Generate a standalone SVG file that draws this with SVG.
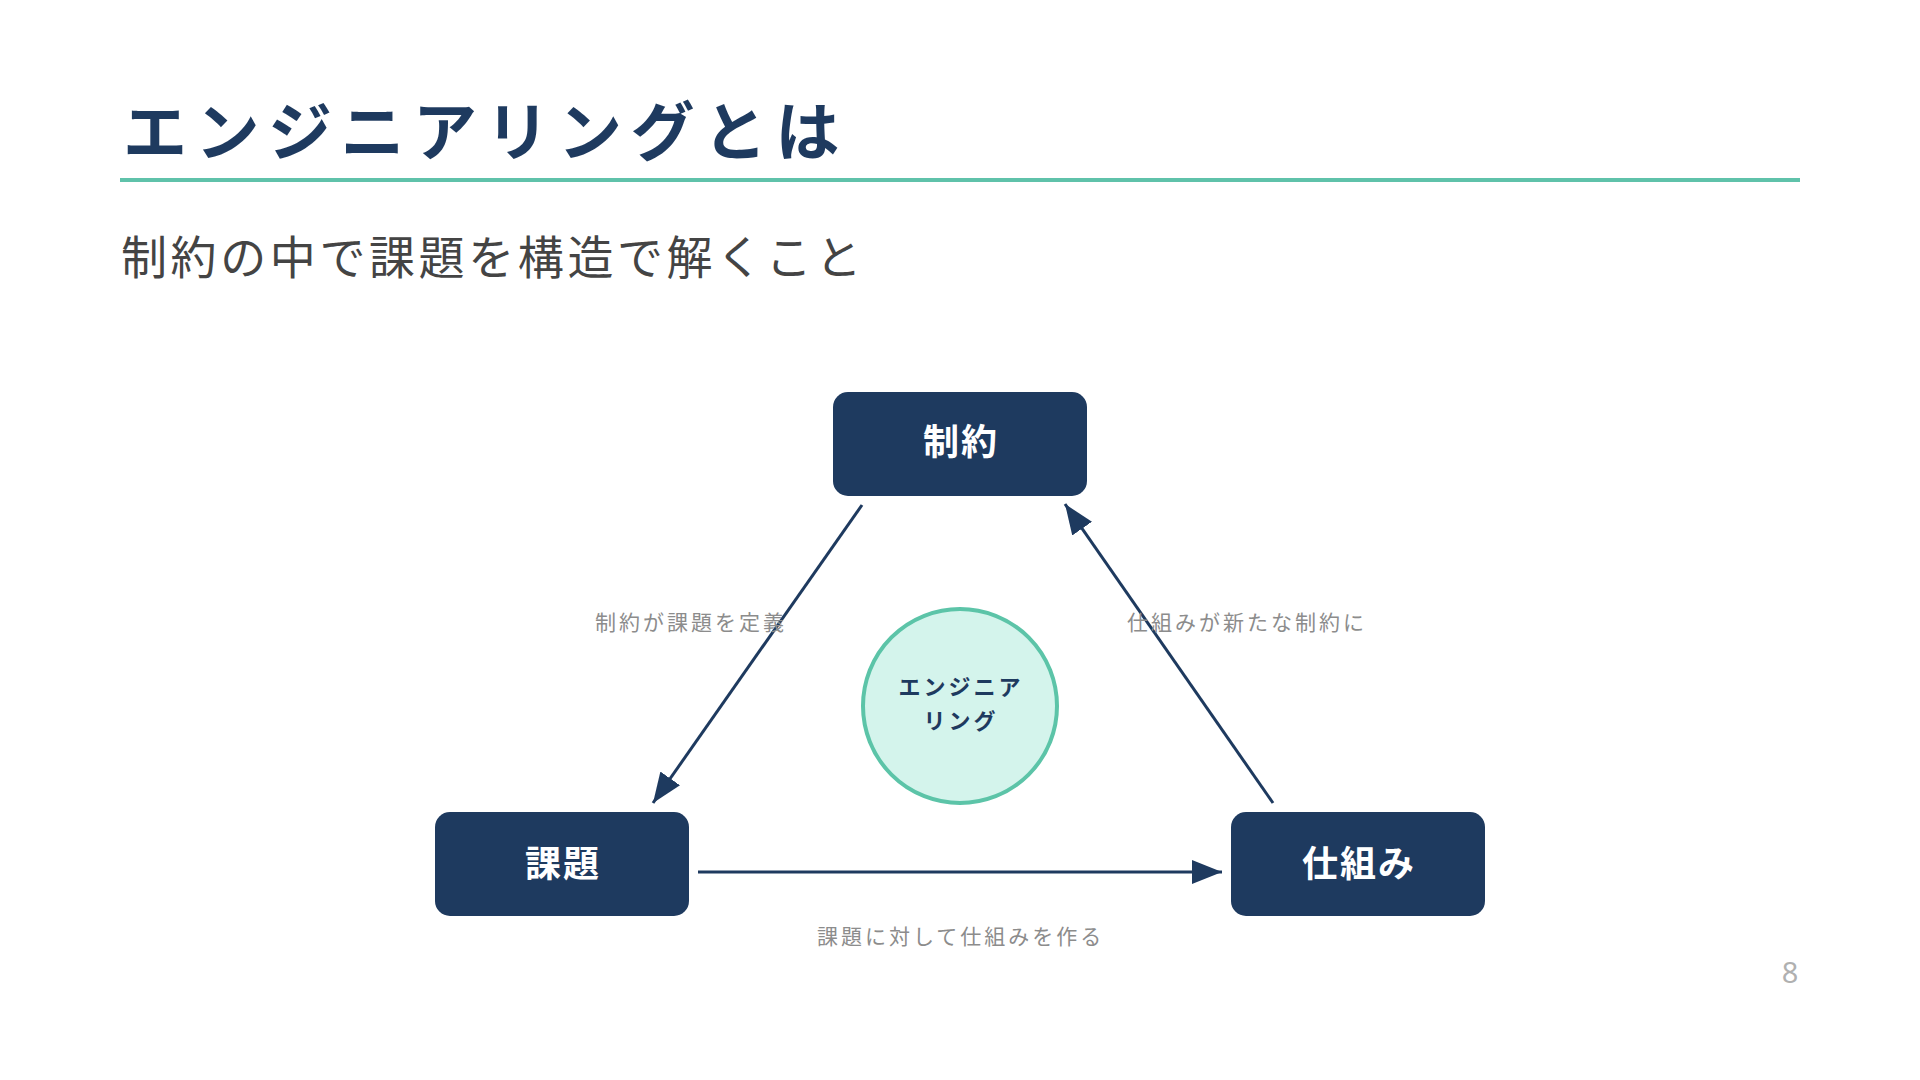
<svg xmlns="http://www.w3.org/2000/svg" width="1920" height="1080" viewBox="0 0 1920 1080">
<defs>
<style>
text{font-family:"Noto Sans CJK JP","Noto Sans",sans-serif;}
.title{font-size:64px;font-weight:700;fill:#1e3a5f;letter-spacing:8.5px;}
.sub{font-size:46px;font-weight:400;fill:#444444;letter-spacing:3.6px;}
.box{fill:#1e3a5f;}
.boxlabel{font-size:36px;font-weight:700;fill:#ffffff;text-anchor:middle;letter-spacing:2px;}
.edge{stroke:#1e3a5f;stroke-width:3;fill:none;marker-end:url(#arrow);}
.elabel{font-size:21px;fill:#8c8c8c;letter-spacing:3px;}
.center{font-size:22px;font-weight:700;fill:#1e3a5f;text-anchor:middle;letter-spacing:3px;}
</style>
<marker id="arrow" markerUnits="userSpaceOnUse" markerWidth="30" markerHeight="24" viewBox="0 0 30 24" refX="30" refY="12" orient="auto">
<path d="M0,0 L30,12 L0,24 Z" fill="#1e3a5f"/>
</marker>
</defs>
<rect width="1920" height="1080" fill="#ffffff"/>
<g id="header">
<text class="title" x="123" y="155">エンジニアリングとは</text>
<line x1="120" y1="180" x2="1800" y2="180" stroke="#5fc2aa" stroke-width="4"/>
<text class="sub" x="121" y="274">制約の中で課題を構造で解くこと</text>
</g>
<g id="connectors">
<line class="edge" x1="862" y1="505" x2="653" y2="803"/>
<line class="edge" x1="698" y1="872" x2="1222" y2="872"/>
<line class="edge" x1="1273" y1="803" x2="1065" y2="504"/>
<text class="elabel" x="595" y="630">制約が課題を定義</text>
<text class="elabel" x="1127" y="630">仕組みが新たな制約に</text>
<text class="elabel" x="817" y="944">課題に対して仕組みを作る</text>
</g>
<g id="node-constraint">
<rect class="box" x="833" y="392" width="254" height="104" rx="15"/>
<text class="boxlabel" x="961" y="455">制約</text>
</g>
<g id="node-problem">
<rect class="box" x="435" y="812" width="254" height="104" rx="15"/>
<text class="boxlabel" x="563" y="877">課題</text>
</g>
<g id="node-mechanism">
<rect class="box" x="1231" y="812" width="254" height="104" rx="15"/>
<text class="boxlabel" x="1359" y="877">仕組み</text>
</g>
<g id="node-engineering">
<circle cx="960" cy="706" r="97" fill="#d4f4ec" stroke="#5cc4a8" stroke-width="4"/>
<text class="center" x="961" y="695">エンジニア</text>
<text class="center" x="961" y="729">リング</text>
</g>
<text x="1790" y="983" font-size="29" fill="#b0b0b0" text-anchor="middle" style="font-family:'Noto Sans','DejaVu Sans',sans-serif">8</text>
</svg>
